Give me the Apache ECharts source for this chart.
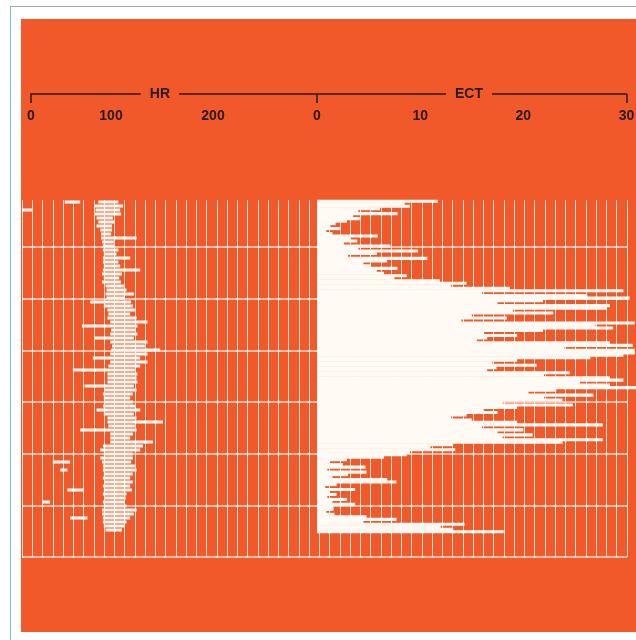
<!DOCTYPE html>
<html><head><meta charset="utf-8">
<script src="https://cdn.jsdelivr.net/npm/echarts@6/dist/echarts.min.js"></script>
<style>html,body{margin:0;padding:0;background:#fff}#c{width:636px;height:640px}</style>
</head><body><div id="c"></div><script>
// ECT per sample row (top -> bottom)
const ectValues = [
  11.7, 8.5, 9.0, 6.1, 4.0, 7.8, 3.5, 4.2, 2.9, 1.8,
  1.3, 2.2, 0.9, 1.5, 5.9, 3.2, 3.9, 2.6, 7.1, 4.0,
  9.8, 5.8, 3.0, 10.7, 6.8, 4.5, 5.2, 7.8, 5.8, 6.5,
  8.7, 7.5, 11.9, 14.5, 13.0, 18.7, 29.7, 16.0, 26.2, 30.3,
  21.9, 17.5, 28.4, 28.1, 19.0, 22.9, 15.0, 18.4, 14.0, 30.8,
  27.0, 28.7, 21.9, 16.2, 19.4, 16.5, 15.5, 28.4, 30.6, 24.0,
  30.8, 30.8, 29.7, 26.5, 19.4, 17.0, 21.3, 17.4, 16.5, 24.5,
  22.0, 28.4, 29.7, 25.5, 28.4, 31.0, 23.2, 20.5, 26.8, 22.0,
  23.8, 18.0, 24.8, 19.4, 16.1, 17.5, 14.5, 13.0, 15.0, 19.4,
  27.7, 16.0, 20.0, 17.5, 20.9, 18.0, 27.7, 23.8, 13.2, 11.0,
  13.4, 9.0, 8.7, 6.5, 2.9, 1.2, 2.5, 4.7, 1.0, 4.8,
  3.0, 1.5, 6.8, 7.7, 1.9, 0.8, 3.7, 1.2, 1.9, 1.0,
  2.9, 1.5, 3.7, 1.6, 1.6, 0.9, 1.7, 4.8, 7.7, 4.5,
  14.3, 12.0, 13.2, 18.1
];
// HR range per sample row (top -> bottom)
const hrLow = [
  74,70,71,70,72,74,72,76,77,77,
  78,79,79,80,79,79,80,79,78,80,
  78,82,83,82,83,65,80,84,85,84,
  87,56,88,87,70,87,89,88,87,68,
  87,85,46,84,84,84,59,81,79,80,
  81,79,72,80,84,84,85,54,87,87,
  87,79,76,80,76,78,79,79,80,79,
  81,79,80,79,81,79,80,78,78,79,
  79,80,82
];
const hrHigh = [
  96,101,98,99,90,92,89,89,88,116,
  91,92,96,94,109,96,98,120,100,97,
  99,102,105,113,103,110,112,114,109,116,
  128,117,115,117,113,128,125,142,128,120,
  128,120,114,117,116,117,113,116,112,109,
  112,115,120,113,116,145,114,116,112,109,
  134,123,120,112,112,110,114,116,112,109,
  112,109,111,105,104,103,105,116,113,109,
  105,103,100
];
// isolated HR artefact dashes
const strayRow  = [0, 2, 65, 67, 72, 75, 79];
const strayLow  = [37, -10, 24, 32, 40, 13, 43];
const strayHigh = [54, 1, 43, 40, 57, 21, 62];

const hrTicks = [0, 100, 200];
const ectTicks = [0, 10, 20, 30];

const orange = '#f2592a';
const ink = '#2a1a12';
const paper = '#fffaf3';
const gridLine = 'rgba(255,240,228,0.92)';
const font = 'Liberation Sans';

const chart = echarts.init(document.getElementById('c'), null, {renderer: 'canvas'});

function rangeRender(params, api) {
  const r = api.value(0), lo = api.value(1), hi = api.value(2);
  const p1 = api.coord([lo, r]);
  const p2 = api.coord([hi, r]);
  const h = api.size([0, 1])[1];
  return {
    type: 'rect',
    shape: {x: p1[0], y: p1[1] - h * 0.38, width: Math.max(1, p2[0] - p1[0]), height: h * 0.76},
    style: {fill: paper}
  };
}

const labelStyle = {color: ink, fontSize: 14, fontWeight: 'bold', fontFamily: font};
const hidden = {axisLine: {show: false}, axisTick: {show: false}, axisLabel: {show: false}, splitLine: {show: false}};

chart.setOption({
  animation: false,
  backgroundColor: '#ffffff',
  graphic: {elements: [
    {type: 'rect', z: -100, shape: {x: 21, y: 19, width: 615, height: 613}, style: {fill: orange}},
    {type: 'line', z: -100, shape: {x1: 10, y1: 6.5, x2: 636, y2: 6.5}, style: {stroke: '#a8a8a8', lineWidth: 1}},
    {type: 'line', z: -100, shape: {x1: 10.5, y1: 6, x2: 10.5, y2: 640}, style: {stroke: '#7fbdb8', lineWidth: 1}}
  ]},
  grid: [
    {left: 22, right: 9, top: 200, bottom: 83, outerBoundsMode: 'none'},
    {left: 31, right: 319, top: 200, bottom: 108, outerBoundsMode: 'none'},
    {left: 317, right: 9.5, top: 200, bottom: 107, outerBoundsMode: 'none'}
  ],
  xAxis: [
    {gridIndex: 0, type: 'value', min: 0, max: 59, interval: 1,
     axisLine: {show: false}, axisTick: {show: false}, axisLabel: {show: false},
     splitLine: {show: true, lineStyle: {color: gridLine, width: 1}}},
    {gridIndex: 1, type: 'value', position: 'top', offset: 106, min: 0, max: 314.3,
     axisLine: {show: true, lineStyle: {color: ink, width: 1.5}},
     axisTick: {show: true, inside: true, length: 9, customValues: [0], lineStyle: {color: ink, width: 1.5}},
     axisLabel: Object.assign({show: true, inside: true, margin: 15, customValues: hrTicks,
       formatter: v => v === 100 ? '{s|100}' : String(v),
       rich: {s: Object.assign({padding: [0, 22, 0, 0]}, labelStyle)}}, labelStyle),
     splitLine: {show: false}},
    {gridIndex: 2, type: 'value', position: 'top', offset: 106, min: 0, max: 30,
     axisLine: {show: true, lineStyle: {color: ink, width: 1.5}},
     axisTick: {show: true, inside: true, length: 9, customValues: [0, 30], lineStyle: {color: ink, width: 1.5}},
     axisLabel: Object.assign({show: true, inside: true, margin: 15, customValues: ectTicks}, labelStyle),
     splitLine: {show: false}},
    Object.assign({gridIndex: 1, type: 'value', position: 'top', offset: 106, min: 0, max: 314.3, z: 20,
     name: 'HR', nameLocation: 'start', nameGap: -148, nameMoveOverlap: false,
     nameTextStyle: Object.assign({backgroundColor: orange, padding: [3, 9]}, labelStyle)}, hidden),
    Object.assign({gridIndex: 2, type: 'value', position: 'top', offset: 106, min: 0, max: 30, z: 20,
     name: 'ECT', nameLocation: 'start', nameGap: -175, nameMoveOverlap: false,
     nameTextStyle: Object.assign({backgroundColor: orange, padding: [3, 9]}, labelStyle)}, hidden)
  ],
  yAxis: [
    {gridIndex: 0, type: 'value', min: 0, max: 6.91, interval: 1,
     axisLine: {show: false}, axisTick: {show: false}, axisLabel: {show: false},
     splitLine: {show: true, showMaxLine: false, lineStyle: {color: gridLine, width: 1.6}}},
    {gridIndex: 1, type: 'category', inverse: true, data: hrLow.map((_, i) => i),
     show: false},
    {gridIndex: 2, type: 'category', inverse: true, data: ectValues.map((_, i) => i),
     show: false}
  ],
  series: [
    {type: 'bar', xAxisIndex: 2, yAxisIndex: 2, data: ectValues, barWidth: '125%',
     clip: false, silent: true, itemStyle: {color: paper}},
    {type: 'custom', xAxisIndex: 1, yAxisIndex: 1, silent: true, clip: false,
     data: hrLow.map((lo, i) => [i, lo, hrHigh[i]]), encode: {x: [1, 2], y: 0},
     renderItem: rangeRender},
    {type: 'custom', xAxisIndex: 1, yAxisIndex: 1, silent: true, clip: false,
     data: strayRow.map((r, i) => [r, strayLow[i], strayHigh[i]]), encode: {x: [1, 2], y: 0},
     renderItem: rangeRender}
  ]
});
</script></body></html>
